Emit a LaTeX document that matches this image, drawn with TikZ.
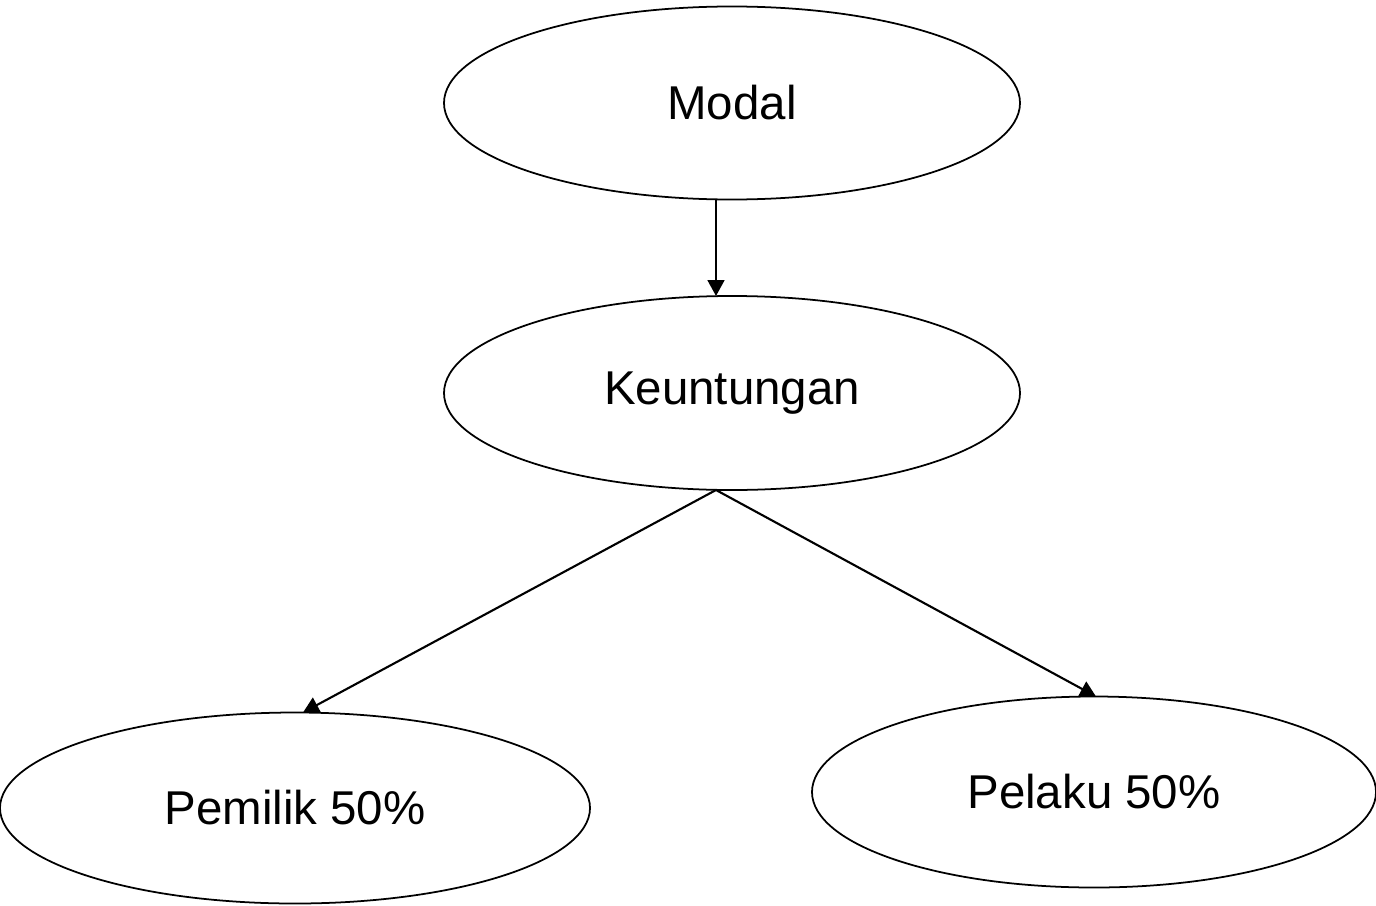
\documentclass[tikz,border=0pt]{standalone}
\usepackage{fontspec}
\setmainfont{Liberation Sans}
\usetikzlibrary{shapes.geometric,arrows.meta}

\tikzset{
    oval/.style={draw,ellipse,line width=1pt,inner sep=0pt,outer sep=0pt,
        font=\fontsize{27}{32}\selectfont},
    link/.style={line width=1.2pt,-{Triangle[length=9pt,width=9.5pt]}}
}

\begin{document}
\begin{tikzpicture}
    \useasboundingbox (0,0) rectangle (27.52,-18.1);
    \node [oval,minimum width=11.52cm,minimum height=3.86cm] (modal) at (14.64,-2.06) {Modal};
    \node [oval,minimum width=11.52cm,minimum height=3.88cm] (keu) at (14.64,-7.86) {Keuntungan};
    \node [oval,minimum width=11.8cm,minimum height=3.82cm] (pemilik) at (5.9,-16.16) {Pemilik 50\%};
    \node [oval,minimum width=11.28cm,minimum height=3.82cm] (pelaku) at (21.88,-15.84) {Pelaku 50\%};
    \draw [link] ([xshift=-0.32cm]modal.south) -- ([xshift=-0.32cm]keu.north);
    \draw [link] ([xshift=-0.32cm]keu.south) -- ([xshift=0.16cm]pemilik.north);
    \draw [link] ([xshift=-0.32cm]keu.south) -- ([xshift=0.04cm]pelaku.north);
\end{tikzpicture}
\end{document}
